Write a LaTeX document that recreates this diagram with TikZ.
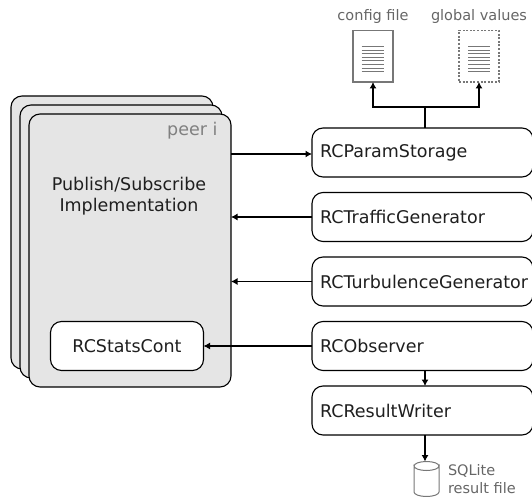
\documentclass[tikz,border=0pt]{standalone}
\usepackage{fontspec}
\setmainfont{DejaVu Sans}
\usetikzlibrary{arrows.meta}
\definecolor{peerfill}{HTML}{E5E5E5}
\definecolor{graytext}{HTML}{666666}
\definecolor{peergray}{HTML}{808080}
\definecolor{docgray}{HTML}{777777}
\tikzset{
  every node/.style={inner sep=0pt,outer sep=0pt},
  peer/.style={draw=black,line width=1.1pt,fill=peerfill,rounded corners=11pt,minimum width=202pt,minimum height=273pt,anchor=north west},
  rcbox/.style={draw=black,line width=1.1pt,fill=white,rounded corners=11pt,minimum width=221pt,minimum height=49pt,anchor=north west},
  rclabel/.style={font=\fontsize{17.5}{21}\selectfont,text=black!88},
  graylabel/.style={font=\fontsize{14.5}{17.5}\selectfont,text=graytext},
  doc/.style={draw=docgray,fill=white,line width=1.4pt,minimum width=40pt,minimum height=51.5pt,anchor=north west},
  conn/.style={draw=black,line width=1.1pt,-{Latex[length=6.5pt,width=7pt]}},
  plainconn/.style={draw=black,line width=1.1pt},
  textline/.style={draw=docgray,line width=.8pt},
  dbanchor/.style={minimum width=25pt,minimum height=35pt,anchor=north}
}
\begin{document}
\begin{tikzpicture}[x=1pt,y=-1pt]
\useasboundingbox (0,0) rectangle (532,497);
\node[peer] (peerA) at (11,96) {};
\node[peer] (peerB) at (20,105) {};
\node[peer] (peerC) at (29,114) {};
\node[rclabel,text=peergray,anchor=east] (peerlabel) at (217.5,131) {peer i};
\node[rclabel,align=center,anchor=center] (impl) at (129,196.5) {Publish/Subscribe\\Implementation};
\node[draw=black,line width=1.1pt,fill=white,rounded corners=11pt,minimum width=153pt,minimum height=49pt,anchor=north west,rclabel] (stats) at (50.5,321.5) {RCStatsCont};
\node[rcbox] (param) at (312,128) {};
\node[rcbox] (traffic) at (312,192.5) {};
\node[rcbox] (turb) at (312,257) {};
\node[rcbox] (obs) at (312,321.5) {};
\node[rcbox] (writer) at (312,386) {};
\node[rclabel,anchor=west] (tparam) at (320,152.5) {RCParamStorage};
\node[rclabel,anchor=west] (ttraffic) at (320,217) {RCTrafficGenerator};
\node[rclabel,anchor=west] (tturb) at (320,281.5) {RCTurbulenceGenerator};
\node[rclabel,anchor=west] (tobs) at (320,346) {RCObserver};
\node[rclabel,anchor=west] (twriter) at (320,410.5) {RCResultWriter};
% documents
\node[doc] (cfg) at (353,30.5) {};
\node[doc,dash pattern=on 2pt off 1.6pt] (glob) at (459,30.5) {};
\node[graylabel,anchor=base] (tcfg) at (373,21) {config file};
\node[graylabel,anchor=base] (tglob) at (479,21) {global values};
\foreach \i in {0,...,7}{
  \draw[textline] (361.5,46.5+3.6*\i) -- (384,46.5+3.6*\i);
  \draw[textline] (468,46.5+3.6*\i) -- (490,46.5+3.6*\i);
}
% database
\node[dbanchor] (db) at (426.5,461.5) {};
\draw[docgray,line width=1pt,fill=white]
  (db.north west) ++(0,4.5) arc[start angle=180,end angle=0,x radius=12.5pt,y radius=-4.5pt]
  -- ++(0,26) arc[start angle=0,end angle=180,x radius=12.5pt,y radius=-4.5pt] -- cycle;
\draw[docgray,line width=1pt]
  (db.north west) ++(0,4.5) arc[start angle=180,end angle=360,x radius=12.5pt,y radius=-4.5pt];
\node[graylabel,align=left,anchor=west] (tdb) at (448,479) {SQLite\\result file};
% connectors
\coordinate (branch) at (425,107);
\draw[plainconn] (param.north -| branch) -- (branch);
\draw[conn] (branch) -| (cfg.south);
\draw[conn] (branch) -| (glob.south);
\draw[conn] (peerC.east |- 0,154) -- (param.west |- 0,154);
\draw[conn] (traffic.west) -- (traffic.west -| peerC.east);
\draw[conn] (turb.west) -- (turb.west -| peerC.east);
\draw[conn] (obs.west) -- (stats.east);
\draw[conn] (obs.south -| branch) -- (writer.north -| branch);
\draw[conn] (writer.south -| branch) -- (branch |- db.north);
\end{tikzpicture}
\end{document}
